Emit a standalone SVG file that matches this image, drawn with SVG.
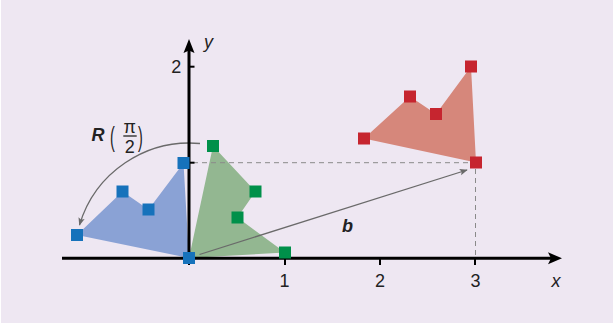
<svg xmlns="http://www.w3.org/2000/svg" width="615" height="327" viewBox="0 0 615 327">
<style>
.ax{stroke:#000;stroke-width:3;fill:none}
.tk{stroke:#000;stroke-width:2;fill:none}
.lbl{font-family:"Liberation Sans",Arial,sans-serif;font-size:18px;fill:#222}
.it{font-style:italic}
.bi{font-style:italic;font-weight:bold}
.dash{stroke:#8a8a8a;stroke-width:1;stroke-dasharray:5,4;fill:none}
.con{stroke:#6a6a6a;stroke-width:1.3;fill:none}
.sqb{fill:#1672bb}
.sqg{fill:#00904a}
.sqr{fill:#c6252f}
</style>
<defs>
<marker id="ah" viewBox="0 0 10 10" refX="9" refY="5" markerWidth="8" markerHeight="8" markerUnits="userSpaceOnUse" orient="auto">
<path d="M0,1 L10,5 L0,9 L2,5 z" fill="#6a6a6a"/>
</marker>
</defs>
<rect x="1" y="0" width="612" height="323" fill="#eee7f2"/>

<g id="blue-shape">
<polygon points="189,258 77,235 122.5,191.5 148.5,209.5 183.5,163" fill="#8aa2d5"/>
</g>
<g id="green-shape">
<polygon points="189,258 285,252.5 237.5,217.5 255.5,191.5 213,146" fill="#93b791"/>
</g>
<g id="red-shape">
<polygon points="476,162.5 364,138.5 410,96.5 436,114 471,66.5" fill="#d6877b"/>
</g>

<g id="connectors">
<line class="dash" x1="193" y1="162.7" x2="470" y2="162.7"/>
<line class="dash" x1="475.5" y1="169" x2="475.5" y2="257"/>
<line class="con" x1="199.5" y1="254.5" x2="467" y2="170" marker-end="url(#ah)"/>
<path class="con" d="M200,143.5 A115,115 0 0 0 79.5,225" marker-end="url(#ah)"/>
</g>

<g id="axes">
<line class="ax" x1="62" y1="258.3" x2="552" y2="258.3"/>
<polygon points="562,258.3 548,252.3 551,258.3 548,264.3" fill="#000"/>
<line class="ax" x1="189" y1="260" x2="189" y2="50"/>
<polygon points="189,39 183.5,53 189,50.5 194.5,53" fill="#000"/>
<line class="tk" x1="189" y1="66.7" x2="194.5" y2="66.7"/>
<line class="tk" x1="189" y1="162.7" x2="194.5" y2="162.7"/>
<line class="tk" x1="189" y1="258" x2="189" y2="265"/>
<line class="tk" x1="285" y1="258" x2="285" y2="265"/>
<line class="tk" x1="380" y1="258" x2="380" y2="265"/>
<line class="tk" x1="475" y1="258" x2="475" y2="265"/>
<text class="lbl" x="284.5" y="286.7" text-anchor="middle">1</text>
<text class="lbl" x="380" y="286.7" text-anchor="middle">2</text>
<text class="lbl" x="475.5" y="286.7" text-anchor="middle">3</text>
<text class="lbl it" x="556" y="286.7" text-anchor="middle" font-size="19">x</text>
<text class="lbl it" x="208.5" y="47.7" text-anchor="middle" font-size="19">y</text>
<text class="lbl" x="176.2" y="72.7" text-anchor="middle">2</text>
</g>

<g id="blue-points">
<rect class="sqb" x="71" y="229" width="12" height="12"/>
<rect class="sqb" x="116.5" y="185.5" width="12" height="12"/>
<rect class="sqb" x="142.5" y="203.5" width="12" height="12"/>
<rect class="sqb" x="177.5" y="157" width="12" height="12"/>
<rect class="sqb" x="183" y="252" width="12" height="12"/>
</g>
<g id="green-points">
<rect class="sqg" x="207" y="140" width="12" height="12"/>
<rect class="sqg" x="249.5" y="185.5" width="12" height="12"/>
<rect class="sqg" x="231.5" y="211.5" width="12" height="12"/>
<rect class="sqg" x="279" y="246.5" width="12" height="12"/>
</g>
<g id="red-points">
<rect class="sqr" x="358" y="132.5" width="12" height="12"/>
<rect class="sqr" x="404" y="90.5" width="12" height="12"/>
<rect class="sqr" x="430" y="108" width="12" height="12"/>
<rect class="sqr" x="465" y="60.5" width="12" height="12"/>
<rect class="sqr" x="470" y="156.5" width="12" height="12"/>
</g>

<g id="label-R">
<text class="lbl bi" x="91.5" y="140.7" font-size="21">R</text>
<text class="lbl" transform="translate(110,146) scale(0.8,1.55)" font-size="25">(</text>
<text class="lbl" x="129.8" y="132.7" text-anchor="middle" font-size="20">π</text>
<line x1="123.3" y1="136" x2="136.7" y2="136" stroke="#222" stroke-width="1.3"/>
<text class="lbl" x="129.8" y="152.7" text-anchor="middle" font-size="19">2</text>
<text class="lbl" transform="translate(138,146) scale(0.8,1.55)" font-size="25">)</text>
</g>

<g id="label-b">
<text class="lbl bi" x="347.5" y="231.7" text-anchor="middle" font-size="21">b</text>
</g>
</svg>
